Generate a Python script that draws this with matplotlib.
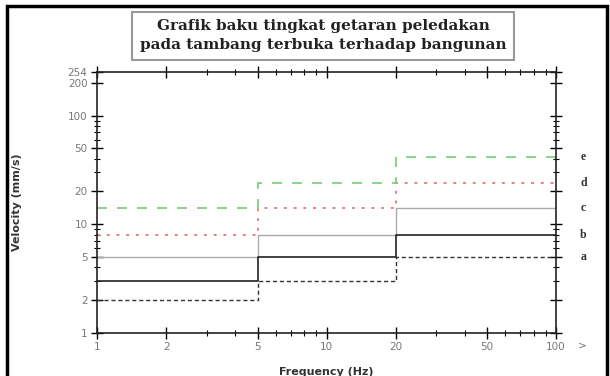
import matplotlib
matplotlib.use("Agg")
import matplotlib.pyplot as plt
from matplotlib.patches import Rectangle
from matplotlib.ticker import FixedLocator, NullFormatter

# Data
freq_edges = [1, 5, 20, 100]
series_names = ["a", "b", "c", "d", "e"]
a_vals = [2, 3, 5]
b_vals = [3, 5, 8]
c_vals = [5, 8, 14]
d_vals = [8, 14, 24]
e_vals = [14, 24, 42]
x_ticks = [1, 2, 5, 10, 20, 50, 100]
x_ticklabels = ["1", "2", "5", "10", "20", "50", "100"]
y_ticks = [1, 2, 5, 10, 20, 50, 100, 200, 254]
y_ticklabels = ["1", "2", "5", "10", "20", "50", "100", "200", "254"]
title_text = "Grafik baku tingkat getaran peledakan\npada tambang terbuka terhadap bangunan"

fig = plt.figure(figsize=(6.1, 3.76), dpi=100)
ax = fig.add_axes([0.1595, 0.1152, 0.9115 - 0.1595, 0.8093 - 0.1152])

styles = {
    "a": dict(color="#333333", linestyle=(0, (3, 2)), lw=1.0),
    "b": dict(color="#222222", linestyle="-", lw=1.2),
    "c": dict(color="#aaaaaa", linestyle="-", lw=1.0),
    "d": dict(color="#e88080", linestyle=(0, (1.5, 3.5)), lw=1.4),
    "e": dict(color="#77cc77", linestyle=(0, (6, 6)), lw=1.2),
}
vals = {"a": a_vals, "b": b_vals, "c": c_vals, "d": d_vals, "e": e_vals}

for name in ["c", "d", "e", "a", "b"]:
    v = vals[name]
    ys = list(v) + [v[-1]]
    ax.step(freq_edges, ys, where="post", **styles[name])

ax.set_xscale("log")
ax.set_yscale("log")
ax.set_xlim(1, 100)
ax.set_ylim(1, 254)

ax.xaxis.set_major_locator(FixedLocator(x_ticks))
ax.set_xticklabels(x_ticklabels)
ax.xaxis.set_minor_locator(FixedLocator([3, 4, 6, 7, 8, 9, 30, 40, 60, 70, 80, 90]))
ax.xaxis.set_minor_formatter(NullFormatter())
ax.yaxis.set_major_locator(FixedLocator(y_ticks))
ax.set_yticklabels(y_ticklabels)
ax.yaxis.set_minor_locator(FixedLocator([3, 4, 6, 7, 8, 9, 30, 40, 60, 70, 80, 90]))
ax.yaxis.set_minor_formatter(NullFormatter())

ax.tick_params(axis="both", which="major", direction="inout", length=8, width=1,
               labelsize=7.5, labelcolor="#777777", top=True, right=True, pad=3)
ax.tick_params(axis="both", which="minor", direction="inout", length=4, width=0.8,
               top=True, right=True)
for s in ax.spines.values():
    s.set_linewidth(1.2)
    s.set_color("#222222")

ax.set_ylabel("Velocity (mm/s)", fontsize=8, fontweight="bold", color="#333333")
ax.yaxis.set_label_coords(-0.165, 0.5)
ax.set_xlabel("Frequency (Hz)", fontsize=8, fontweight="bold", color="#333333")
ax.xaxis.set_label_coords(0.5, -0.13)

# series letters at right
for name in series_names:
    ax.text(1.06, vals[name][-1], name, transform=ax.get_yaxis_transform(),
            fontsize=8.5, fontweight="bold", family="Liberation Serif",
            color="#333333", va="center", ha="center")
ax.text(1.057, -0.05, ">", transform=ax.transAxes, fontsize=7.5, color="#777777",
        va="center", ha="center")

# title box
fig.text(0.53, 0.905, title_text, ha="center", va="center", fontsize=11,
         fontweight="bold", family="DejaVu Serif", color="#222222",
         linespacing=1.45,
         bbox=dict(boxstyle="square,pad=0.5", facecolor="white",
                   edgecolor="#999999", linewidth=1.5))

# outer frame
fig.patches.append(Rectangle((7 / 610, -0.05), (607 - 7) / 610, 1.05 - 6 / 376,
                             transform=fig.transFigure, fill=False,
                             edgecolor="black", linewidth=2.5))

fig.savefig("out.png", dpi=100)
